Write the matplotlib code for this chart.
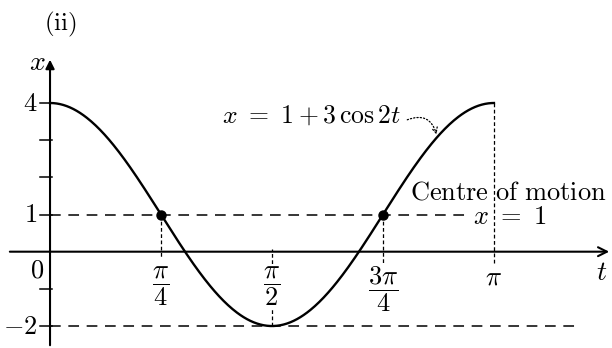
import numpy as np
import matplotlib.pyplot as plt

plt.rcParams['mathtext.fontset'] = 'cm'
plt.rcParams['font.family'] = 'serif'

# displacement x = 1 + 3 cos 2t over one period
t_start, t_end = 0.0, np.pi
amp, centre = 3.0, 1.0
omega = 2.0

x_ticks = [4, 3, 2, 1, -1, -2]
y_labels = {4: '$4$', 1: '$1$', -2: '$-2$'}
t_ticks = [np.pi / 4, np.pi / 2, 3 * np.pi / 4, np.pi]
t_labels = [r'$\dfrac{\pi}{4}$', r'$\dfrac{\pi}{2}$', r'$\dfrac{3\pi}{4}$', r'$\pi$']
centre_t = [np.pi / 4, 3 * np.pi / 4]

FS = 19


def pos(t):
    return centre + amp * np.cos(omega * t)


fig = plt.figure(figsize=(6.12, 3.48), dpi=100)
ax = fig.add_axes([0, 0, 1, 1])
ax.set_xlim(-0.354, 3.977)
ax.set_ylim(-2.591, 6.771)
ax.axis('off')

# axes with arrows
ax.annotate('', xy=(3.977, 0), xytext=(-0.304, 0),
            arrowprops=dict(arrowstyle='->', lw=1.5, color='black', mutation_scale=16))
ax.annotate('', xy=(0, 5.24), xytext=(0, -2.591),
            arrowprops=dict(arrowstyle='-|>', lw=1.5, color='black', mutation_scale=13))

for v in x_ticks:
    ax.plot([-0.07, 0.012], [v, v], color='black', lw=1.1)
for v, s in y_labels.items():
    ax.text(-0.09, v, s, ha='right', va='center', fontsize=FS)
ax.text(-0.04, -0.5, '$0$', ha='right', va='center', fontsize=FS)

# curve
t = np.linspace(t_start, t_end, 400)
ax.plot(t, pos(t), color='black', lw=1.7)

# reference dashed lines
dash = dict(color='black', lw=1.1, ls=(0, (7, 5)))
ax.plot([0, 2.972], [centre, centre], **dash)
ax.plot([0, 3.75], [centre - amp, centre - amp], **dash)

vdash = dict(color='black', lw=0.9, ls=(0, (3, 2)))
ax.plot([np.pi / 4] * 2, [centre, -0.17], **vdash)
ax.plot([np.pi / 2] * 2, [centre - amp, 0.08], **vdash)
ax.plot([3 * np.pi / 4] * 2, [centre, -0.35], **vdash)
ax.plot([np.pi] * 2, [pos(np.pi), -0.35], **vdash)

ax.plot(centre_t, [pos(v) for v in centre_t], 'o', color='black', ms=6.5)

for tv, s in zip(t_ticks, t_labels):
    ax.text(tv, -0.35, s, ha='center', va='top', fontsize=FS,
            bbox=dict(facecolor='white', edgecolor='none', pad=0.5))

ax.text(3.905, -0.57, '$t$', ha='center', va='center', fontsize=FS + 1)
ax.text(-0.09, 5.08, '$x$', ha='center', va='center', fontsize=FS + 1)
ax.text(0.071, 6.1, r'$\mathrm{(ii)}$', ha='center', va='center', fontsize=FS - 1)

ax.text(1.847, 3.68, r'$x\ =\ 1+3\,\cos 2t$', ha='center', va='center', fontsize=FS - 0.5)
t_arrow = 2.74
ax.annotate('', xy=(t_arrow, pos(t_arrow)), xytext=(2.51, 3.52),
            arrowprops=dict(arrowstyle='->', lw=0.9, ls=':', color='black',
                            connectionstyle='arc3,rad=-0.6', mutation_scale=10))

ax.text(3.241, 1.606, r'$\mathrm{Centre\ of\ motion}$', ha='center', va='center', fontsize=FS)
ax.text(2.993, 0.96, r'$x\ =\ 1$', ha='left', va='center', fontsize=FS)

fig.savefig('out.png', dpi=100)
